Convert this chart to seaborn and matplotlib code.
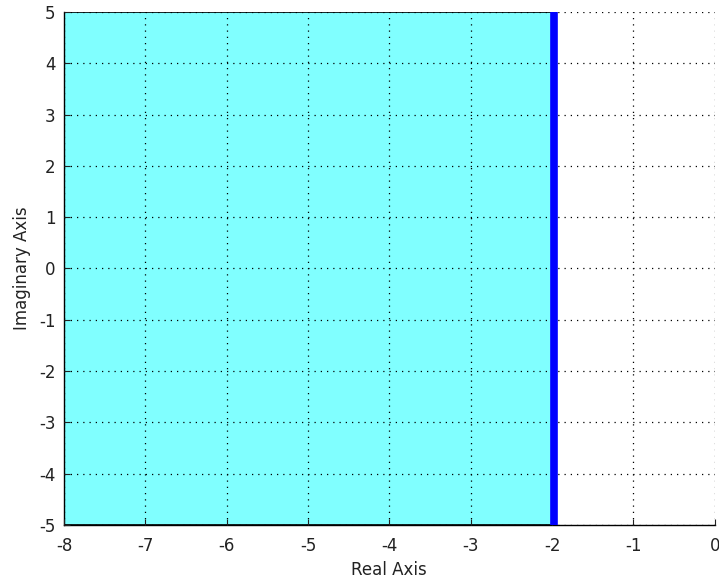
import numpy as np
import pandas as pd
import matplotlib
matplotlib.use('Agg')
import matplotlib.pyplot as plt
import seaborn as sns

# Region data (real part boundary of the shaded area)
region_real = [-8, -1.97]
boundary_real = [-1.97, -1.97]
boundary_imag = [-5, 5]
x_ticks = [-8, -7, -6, -5, -4, -3, -2, -1, 0]
y_ticks = [-5, -4, -3, -2, -1, 0, 1, 2, 3, 4, 5]

sns.set_style('white')
plt.rcParams['font.family'] = ['DejaVu Sans']

fig = plt.figure(figsize=(7.19, 5.83), dpi=100)
ax = fig.add_axes([0.089, 0.0995, 0.905, 0.8800])

# Shaded region
ax.fill_between(region_real, boundary_imag[0], boundary_imag[1],
                facecolor='#80FFFF', edgecolor='black', linewidth=1.2, zorder=1)

# Boundary line
df = pd.DataFrame({'real': boundary_real, 'imag': boundary_imag})
sns.lineplot(data=df, x='real', y='imag', color='#0000FF', linewidth=5.5,
             sort=False, estimator=None, ax=ax, zorder=4)

ax.set_xlim(-8, 0)
ax.set_ylim(-5, 5)
ax.set_xticks(x_ticks)
ax.set_yticks(y_ticks)
ax.set_xticklabels([str(t) for t in x_ticks])
ax.set_yticklabels([str(t) for t in y_ticks])

ax.set_axisbelow(False)
ax.grid(True, linestyle=(0, (1, 4)), color='black', linewidth=0.9)
for s in ['top', 'right']:
    ax.spines[s].set_visible(False)
for s in ['left', 'bottom']:
    ax.spines[s].set_color('black')
    ax.spines[s].set_linewidth(1.0)

ax.tick_params(direction='in', length=4, width=0.8, colors='#222222',
               labelsize=12, left=True, bottom=True)
ax.tick_params(axis='x', pad=9)
ax.tick_params(axis='y', pad=6)
ax.set_xlabel('Real Axis', fontsize=12, labelpad=4, color='#222222')
ax.set_ylabel('Imaginary Axis', fontsize=12, labelpad=6, color='#222222')

fig.savefig('out.png', dpi=100)
